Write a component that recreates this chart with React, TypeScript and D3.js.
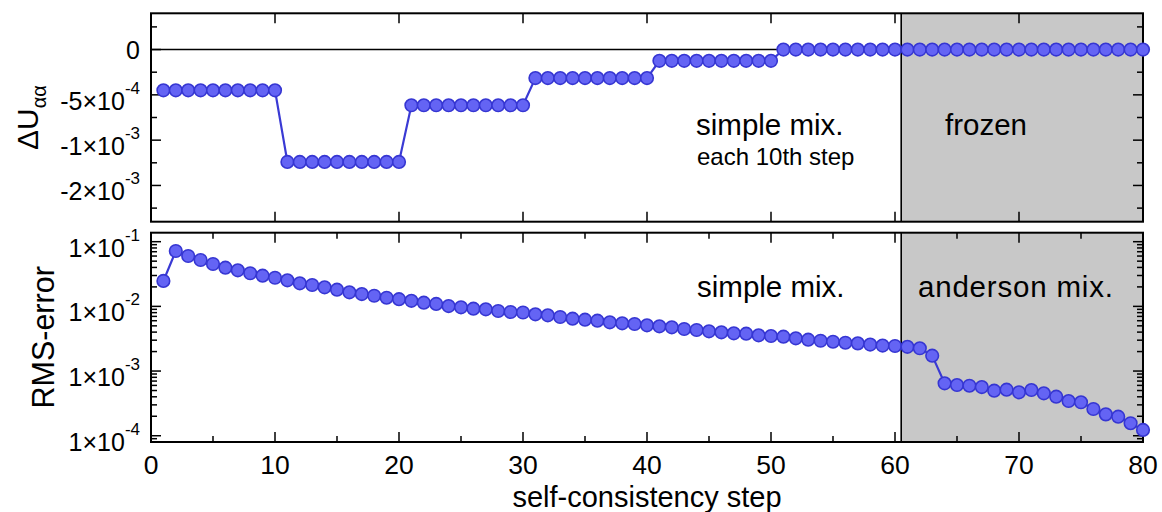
import React from 'react';
import * as d3 from 'd3';

// ---- data ----
const steps = [
  1, 2, 3, 4, 5, 6, 7, 8, 9, 10,
  11, 12, 13, 14, 15, 16, 17, 18, 19, 20,
  21, 22, 23, 24, 25, 26, 27, 28, 29, 30,
  31, 32, 33, 34, 35, 36, 37, 38, 39, 40,
  41, 42, 43, 44, 45, 46, 47, 48, 49, 50,
  51, 52, 53, 54, 55, 56, 57, 58, 59, 60,
  61, 62, 63, 64, 65, 66, 67, 68, 69, 70,
  71, 72, 73, 74, 75, 76, 77, 78, 79, 80,
];

const deltaU = [
  -4.5e-4, -4.5e-4, -4.5e-4, -4.5e-4, -4.5e-4, -4.5e-4, -4.5e-4, -4.5e-4, -4.5e-4, -4.5e-4,
  -1.24e-3, -1.24e-3, -1.24e-3, -1.24e-3, -1.24e-3, -1.24e-3, -1.24e-3, -1.24e-3, -1.24e-3, -1.24e-3,
  -6.15e-4, -6.15e-4, -6.15e-4, -6.15e-4, -6.15e-4, -6.15e-4, -6.15e-4, -6.15e-4, -6.15e-4, -6.15e-4,
  -3.15e-4, -3.15e-4, -3.15e-4, -3.15e-4, -3.15e-4, -3.15e-4, -3.15e-4, -3.15e-4, -3.15e-4, -3.15e-4,
  -1.24e-4, -1.24e-4, -1.24e-4, -1.24e-4, -1.24e-4, -1.24e-4, -1.24e-4, -1.24e-4, -1.24e-4, -1.24e-4,
  0, 0, 0, 0, 0, 0, 0, 0, 0, 0,
  0, 0, 0, 0, 0, 0, 0, 0, 0, 0,
  0, 0, 0, 0, 0, 0, 0, 0, 0, 0,
];

const rmsError = [
  0.0247, 0.0718, 0.0601, 0.0521, 0.0452, 0.0396, 0.0361, 0.0325, 0.0298, 0.0277,
  0.0253, 0.0227, 0.0214, 0.0197, 0.0181, 0.0165, 0.0155, 0.0146, 0.0136, 0.0129,
  0.0122, 0.0114, 0.0109, 0.0101, 0.00968, 0.0092, 0.00901, 0.00848, 0.00818, 0.00804,
  0.00754, 0.00728, 0.00685, 0.00645, 0.00622, 0.006, 0.00567, 0.00547, 0.00534, 0.0051,
  0.00492, 0.00475, 0.00447, 0.00431, 0.00412, 0.00397, 0.00383, 0.00378, 0.00357, 0.00348,
  0.0034, 0.00321, 0.00305, 0.00294, 0.00284, 0.00274, 0.00268, 0.00257, 0.00248, 0.00244,
  0.00237, 0.00225, 0.00173, 0.000646, 0.000608, 0.000593, 0.000566, 0.000497, 0.000515, 0.000469,
  0.000509, 0.000453, 0.000401, 0.000344, 0.000329, 0.000259, 0.000214, 0.000197, 0.000156, 0.000123,
];

const xMajorTicks = [0, 10, 20, 30, 40, 50, 60, 70, 80];
const xMinorTicks = [5, 15, 25, 35, 45, 55, 65, 75];

const topMajorTicks = [0, -5e-4, -1e-3, -1.5e-3];
const topTickMain = ['0', '-5×10', '-1×10', '-2×10'];
const topTickExp = ['', '-4', '-3', '-3'];
const topMinorTicks = [2.5e-4, -2.5e-4, -7.5e-4, -1.25e-3, -1.75e-3];

const botMajorTicks = [1e-1, 1e-2, 1e-3, 1e-4];
const botTickMain = ['1×10', '1×10', '1×10', '1×10'];
const botTickExp = ['-1', '-2', '-3', '-4'];

const freezeStart = 60.5;

// ---- layout ----
const W = 1162;
const H = 512;
const X0 = 151;
const X1 = 1143;
const T0 = 13.3;
const T1 = 221.7;
const B0 = 232.7;
const B1 = 442;

const FONT = '"Liberation Sans", Arial, Helvetica, sans-serif';
const LINE_COLOR = '#3a3ad4';
const FILL_COLOR = '#6464f4';
const EDGE_COLOR = '#3636d2';

export default function App() {
  const x = d3.scaleLinear().domain([0, 80]).range([X0, X1]);
  const yTop = d3.scaleLinear().domain([-1.9e-3, 4e-4]).range([T1, T0]);
  const yBot = d3.scaleLog().domain([Math.pow(10, -4.097), Math.pow(10, -0.861)]).range([B1, B0]);

  const botDomain = yBot.domain();
  const botMinor: number[] = [];
  for (let d = -5; d <= 0; d++) {
    for (let k = 2; k <= 9; k++) {
      const v = k * Math.pow(10, d);
      if (v >= botDomain[0] && v <= botDomain[1]) botMinor.push(v);
    }
  }

  const topLine = d3.line<number>().x((_, i) => x(steps[i])).y((d) => yTop(d))(deltaU) || '';
  const botLine = d3.line<number>().x((_, i) => x(steps[i])).y((d) => yBot(d))(rmsError) || '';

  const majorLen = 10;
  const minorLen = 6;
  const tickW = 1.5;

  const xf = x(freezeStart);

  const xTicksFor = (y0: number, y1: number, withMinor: boolean) => (
    <g stroke="#000" strokeWidth={tickW}>
      {xMajorTicks.filter((t) => t > 0 && t < 80).map((t) => (
        <g key={'M' + t}>
          <line x1={x(t)} x2={x(t)} y1={y1} y2={y1 - majorLen} />
          <line x1={x(t)} x2={x(t)} y1={y0} y2={y0 + majorLen} />
        </g>
      ))}
      {withMinor && xMinorTicks.map((t) => (
        <g key={'m' + t}>
          <line x1={x(t)} x2={x(t)} y1={y1} y2={y1 - minorLen} />
          <line x1={x(t)} x2={x(t)} y1={y0} y2={y0 + minorLen} />
        </g>
      ))}
    </g>
  );

  const tickFont = 25;
  const supFont = 17;

  return (
    <svg width={W} height={H} style={{ position: 'absolute', left: 0, top: 0, background: '#fff' }}
      fontFamily={FONT}>
      <rect x={0} y={0} width={W} height={H} fill="#fff" />

      {/* shaded regions */}
      <rect x={xf} y={T0} width={X1 - xf} height={T1 - T0} fill="#c8c8c8" />
      <rect x={xf} y={B0} width={X1 - xf} height={B1 - B0} fill="#c8c8c8" />

      {/* zero line */}
      <line x1={X0} x2={X1} y1={yTop(0)} y2={yTop(0)} stroke="#000" strokeWidth={1.5} />

      {/* freeze separators */}
      <line x1={xf} x2={xf} y1={T0} y2={T1} stroke="#000" strokeWidth={1.6} />
      <line x1={xf} x2={xf} y1={B0} y2={B1} stroke="#000" strokeWidth={1.6} />

      {/* top panel y ticks */}
      <g stroke="#000" strokeWidth={tickW}>
        {topMajorTicks.map((t) => (
          <g key={'tM' + t}>
            <line x1={X0} x2={X0 + majorLen} y1={yTop(t)} y2={yTop(t)} />
            <line x1={X1} x2={X1 - majorLen} y1={yTop(t)} y2={yTop(t)} />
          </g>
        ))}
        {topMinorTicks.map((t) => (
          <g key={'tm' + t}>
            <line x1={X0} x2={X0 + minorLen} y1={yTop(t)} y2={yTop(t)} />
            <line x1={X1} x2={X1 - minorLen} y1={yTop(t)} y2={yTop(t)} />
          </g>
        ))}
      </g>

      {/* bottom panel y ticks */}
      <g stroke="#000" strokeWidth={tickW}>
        {botMajorTicks.map((t) => (
          <g key={'bM' + t}>
            <line x1={X0} x2={X0 + majorLen} y1={yBot(t)} y2={yBot(t)} />
            <line x1={X1} x2={X1 - majorLen} y1={yBot(t)} y2={yBot(t)} />
          </g>
        ))}
        {botMinor.map((t) => (
          <g key={'bm' + t}>
            <line x1={X0} x2={X0 + minorLen} y1={yBot(t)} y2={yBot(t)} />
            <line x1={X1} x2={X1 - minorLen} y1={yBot(t)} y2={yBot(t)} />
          </g>
        ))}
      </g>

      {xTicksFor(T0, T1, false)}
      {xTicksFor(B0, B1, true)}

      {/* frames */}
      <rect x={X0} y={T0} width={X1 - X0} height={T1 - T0} fill="none" stroke="#000" strokeWidth={2} />
      <rect x={X0} y={B0} width={X1 - X0} height={B1 - B0} fill="none" stroke="#000" strokeWidth={2} />

      {/* data: top */}
      <path d={topLine} fill="none" stroke={LINE_COLOR} strokeWidth={2.2} />
      {deltaU.map((v, i) => (
        <circle key={'ct' + i} cx={x(steps[i])} cy={yTop(v)} r={6.3}
          fill={FILL_COLOR} stroke={EDGE_COLOR} strokeWidth={1.6} />
      ))}

      {/* data: bottom */}
      <path d={botLine} fill="none" stroke={LINE_COLOR} strokeWidth={2.2} />
      {rmsError.map((v, i) => (
        <circle key={'cb' + i} cx={x(steps[i])} cy={yBot(v)} r={6.3}
          fill={FILL_COLOR} stroke={EDGE_COLOR} strokeWidth={1.6} />
      ))}

      {/* y tick labels top */}
      {topMajorTicks.map((t, i) => (
        topTickExp[i] === '' ? (
          <text key={'tl' + i} x={140} y={yTop(t) + 9} textAnchor="end" fontSize={tickFont}>{topTickMain[i]}</text>
        ) : (
          <text key={'tl' + i} x={140} y={yTop(t) + 15} textAnchor="end" fontSize={tickFont}>
            {topTickMain[i]}
            <tspan dy={-16} fontSize={supFont}>{topTickExp[i]}</tspan>
          </text>
        )
      ))}

      {/* y tick labels bottom */}
      {botMajorTicks.map((t, i) => (
        <text key={'bl' + i} x={140} y={yBot(t) + 15} textAnchor="end" fontSize={tickFont}>
          {botTickMain[i]}
          <tspan dy={-16} fontSize={supFont}>{botTickExp[i]}</tspan>
        </text>
      ))}

      {/* x tick labels */}
      {xMajorTicks.map((t) => (
        <text key={'xl' + t} x={x(t)} y={474} textAnchor="middle" fontSize={26.5}>{t}</text>
      ))}

      {/* axis titles */}
      <text x={(X0 + X1) / 2} y={507} textAnchor="middle" fontSize={29}>self-consistency step</text>
      <text transform={`translate(38, ${(T0 + T1) / 2}) rotate(-90)`} textAnchor="middle" fontSize={30}>
        ΔU<tspan dy={8} fontSize={20}>αα</tspan>
      </text>
      <text transform={`translate(54, ${(B0 + B1) / 2}) rotate(-90)`} textAnchor="middle" fontSize={30.5}>RMS-error</text>

      {/* annotations */}
      <text x={696} y={135} fontSize={29.5}>simple mix.</text>
      <text x={697} y={165} fontSize={24}>each 10th step</text>
      <text x={945} y={135} fontSize={29.5}>frozen</text>
      <text x={697} y={297} fontSize={29.5}>simple mix.</text>
      <text x={918} y={297} fontSize={29.5} letterSpacing={0.8}>anderson mix.</text>
    </svg>
  );
}
